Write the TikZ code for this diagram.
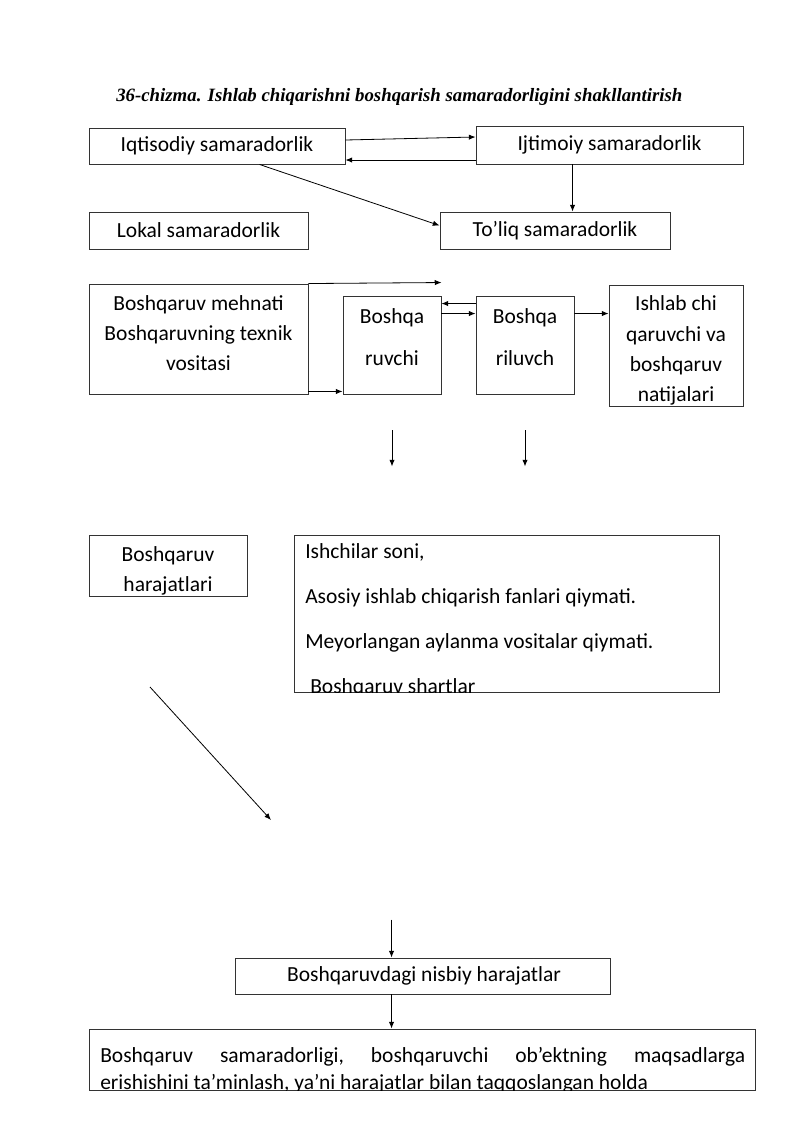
\documentclass[tikz,border=0pt]{standalone}
\usepackage{fontspec}
\setmainfont{Carlito}
\newfontfamily\titlefont{Liberation Serif}
\usetikzlibrary{arrows.meta,fit,calc}
\tikzset{
  frame/.style={draw=black!80, line width=0.7pt, inner sep=0pt},
  txt/.style={font=\fontsize{16}{22.3}\selectfont, inner sep=0pt, align=center},
  bl/.style={font=\fontsize{16}{20}\selectfont, inner sep=0pt, anchor=base},
  blw/.style={font=\fontsize{16}{20}\selectfont, inner sep=0pt, anchor=base west},
  arr/.style={-{Latex[length=5pt,width=4pt]}, line width=0.6pt}
}
\begin{document}
\begin{tikzpicture}[x=0.7441pt,y=-0.7441pt]
\useasboundingbox (0,0) rectangle (800,1131);
\fill[white] (0,0) rectangle (800,1131);

% title
\node[anchor=west, inner sep=0pt, font=\titlefont\bfseries\itshape\fontsize{14}{16}\selectfont] (title) at (116,97)
  {36-chizma. Ishlab chiqarishni boshqarish samaradorligini shakllantirish};

% row 1-2
\node[frame, fit={(89,128)(345,164)}] (iq) {};
\node[txt] (iqt) at (iq.center) {Iqtisodiy samaradorlik};
\node[frame, fit={(476,126)(743,164)}] (ij) {};
\node[txt] (ijt) at (ij.center) {Ijtimoiy samaradorlik};
\node[frame, fit={(89,212)(308,249)}] (lok) {};
\node[txt] (lokt) at (lok.center) {Lokal samaradorlik};
\node[frame, fit={(440,212)(670,249)}] (tol) {};
\node[txt] (tolt) at (tol.center) {To’liq samaradorlik};

\draw[arr] ($(iq.east)+(0,-6)$) -- ($(ij.west)+(0,-8)$);
\draw[arr] ($(ij.west)+(0,15)$) -- ($(iq.east)+(0,14)$);
\draw[arr] ($(iq.south west)+(171,0)$) -- ($(tol.west)+(0,-5)$);
\draw[arr] ($(ij.south west)+(97,0)$) -- ($(tol.north west)+(133,0)$);

% row 3
\node[frame, fit={(89,284)(308,394)}] (bm) {};
\node[txt] (bmt) at (198.5,333) {Boshqaruv mehnati\\Boshqaruvning texnik\\vositasi};
\node[frame, fit={(343,296)(441,394)}] (br) {};
\node[txt, font=\fontsize{16}{31.3}\selectfont] (brt) at (392,337) {Boshqa\\ruvchi};
\node[frame, fit={(476,296)(574,394)}] (bq) {};
\node[txt, font=\fontsize{16}{31.3}\selectfont] (bqt) at (525,337) {Boshqa\\riluvch};
\node[frame, fit={(609,285)(743,406)}] (ish) {};
\begin{scope}
  \clip (ish.north west) rectangle (ish.south east);
  \node[bl] (ish1) at (676,310.7) {Ishlab chi};
  \node[bl] (ish2) at (676,341.7) {qaruvchi va};
  \node[bl] (ish3) at (676,371.7) {boshqaruv};
  \node[bl] (ish4) at (676,401.7) {natijalari};
\end{scope}

\coordinate (topend) at ($(br.north east)+(0,-13)$);
\draw[arr] (bm.north east) -- (topend);
\draw[arr] ($(bm.south east)+(0,-3)$) -- ($(br.south west)+(0,-3)$);
\draw[arr] ($(bq.north west)+(0,8)$) -- ($(br.north east)+(0,8)$);
\draw[arr] ($(br.north east)+(0,18)$) -- ($(bq.north west)+(0,18)$);
\draw[arr] ($(bq.north east)+(0,18)$) -- ($(ish.north west)+(0,29)$);

\coordinate (a1s) at ($(br.south)+(0,36)$);
\coordinate (a1e) at ($(br.south)+(0,72)$);
\coordinate (a2s) at ($(bq.south)+(0,36)$);
\coordinate (a2e) at ($(bq.south)+(0,72)$);
\draw[arr] (a1s) -- (a1e);
\draw[arr] (a2s) -- (a2e);

% row 4
\node[frame, fit={(89,535)(247,596)}] (har) {};
\begin{scope}
  \clip (har.north west) rectangle (har.south east);
  \node[bl] (har1) at (168,561.7) {Boshqaruv};
  \node[bl] (har2) at (168,591.7) {harajatlari};
\end{scope}
\node[frame, fit={(294,535)(719,692)}] (big) {};
\begin{scope}
  \clip (big.north west) rectangle (big.south east);
  \node[blw] (big1) at (305,558) {Ishchilar soni,};
  \node[blw] (big2) at (305,603) {Asosiy ishlab chiqarish fanlari qiymati.};
  \node[blw] (big3) at (305,648) {Meyorlangan aylanma vositalar qiymati.};
  \node[blw] (big4) at (310,693) {Boshqaruv shartlar};
\end{scope}

\coordinate (d1) at (150,687);
\coordinate (d2) at (271,820);
\draw[arr] (d1) -- (d2);

% bottom
\node[frame, fit={(235,958)(610,994)}] (nis) {};
\node[txt] (nist) at (424,976) {Boshqaruvdagi nisbiy harajatlar};
\coordinate (d3) at ($(nis.north west)+(157,-38)$);
\draw[arr] (d3) -- ($(nis.north west)+(157,0)$);

\node[frame, fit={(89,1029)(755,1090)}] (fin) {};
\begin{scope}
  \clip (fin.north west) rectangle (fin.south east);
  \node[blw] (fin1) at (100,1062) {\hbox to 480pt{Boshqaruv\hfill samaradorligi,\hfill boshqaruvchi\hfill ob’ektning\hfill maqsadlarga}};
  \node[blw] (fin2) at (100,1089) {erishishini ta’minlash, ya’ni harajatlar bilan taqqoslangan holda};
\end{scope}
\draw[arr] ($(nis.south west)+(157,0)$) -- ($(fin.north west)+(303,0)$);
\end{tikzpicture}
\end{document}
